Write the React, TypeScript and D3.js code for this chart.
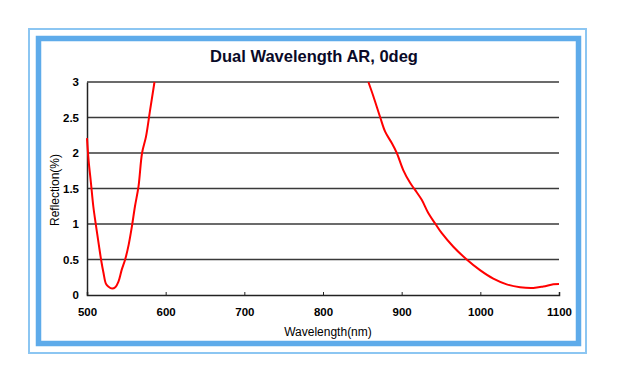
import { useEffect, useRef } from "react";
import * as d3 from "d3";

const title = "Dual Wavelength AR, 0deg";
const xTicks = [500, 600, 700, 800, 900, 1000, 1100];
const yTicks = [0, 0.5, 1, 1.5, 2, 2.5, 3];

// visible band 1 (green side)
const band1Nm = [500, 502, 505, 508, 511, 515, 518, 521, 524, 527, 532, 536, 540, 544, 548.5, 553, 557, 561, 565.5, 570, 575, 580, 585.8];
const band1R = [2.21, 1.9, 1.58, 1.25, 1.01, 0.71, 0.49, 0.31, 0.16, 0.12, 0.09, 0.11, 0.19, 0.35, 0.5, 0.71, 0.96, 1.25, 1.53, 2.0, 2.23, 2.59, 3.0];

// near IR band
const band2Nm = [857.7, 864, 872.5, 879, 887.4, 893.8, 902, 910.7, 917, 925.5, 934, 942.4, 951, 965.7, 982.7, 999.6, 1016.5, 1033.5, 1050.5, 1067.4, 1080, 1092.8, 1100];
const band2R = [3.0, 2.8, 2.51, 2.3, 2.14, 2.0, 1.76, 1.58, 1.48, 1.34, 1.15, 1.01, 0.87, 0.68, 0.5, 0.35, 0.23, 0.15, 0.11, 0.1, 0.12, 0.15, 0.155];

export default function App() {
  const ref = useRef<SVGSVGElement | null>(null);

  useEffect(() => {
    const width = 618;
    const height = 384;
    const margin = { top: 82, right: 59, bottom: 89, left: 87 };
    const font = "Liberation Sans, Arial, sans-serif";

    const svg = d3.select(ref.current);
    svg.selectAll("*").remove();

    svg.append("rect").attr("width", width).attr("height", height).attr("fill", "#fff");

    // frame
    svg.append("rect")
      .attr("x", 29).attr("y", 29).attr("width", 557).attr("height", 324)
      .attr("fill", "none").attr("stroke", "#8cc6f2").attr("stroke-width", 2);
    svg.append("rect")
      .attr("x", 38.5).attr("y", 38.5).attr("width", 540).attr("height", 305)
      .attr("fill", "none").attr("stroke", "#5eabea").attr("stroke-width", 5.5);

    const x = d3.scaleLinear().domain([500, 1100]).range([margin.left, width - margin.right]);
    const y = d3.scaleLinear().domain([0, 3]).range([height - margin.bottom, margin.top]);

    svg.append("text")
      .attr("x", 314).attr("y", 62)
      .attr("text-anchor", "middle")
      .attr("font-family", font)
      .attr("font-weight", "bold")
      .attr("font-size", 16.5)
      .attr("fill", "#0a0a28")
      .text(title);

    // horizontal grid
    svg.append("g")
      .selectAll("line")
      .data(yTicks.filter((t) => t > 0))
      .join("line")
      .attr("x1", x(500)).attr("x2", x(1100))
      .attr("y1", (d) => y(d)).attr("y2", (d) => y(d))
      .attr("stroke", "#3a3a3a").attr("stroke-width", 1.5);

    const xAxis = svg.append("g")
      .attr("transform", `translate(0,${y(0)})`)
      .call(d3.axisBottom(x).tickValues(xTicks).tickSize(-3).tickPadding(13).tickFormat(d3.format("d")));
    xAxis.select(".domain").attr("stroke", "#222").attr("stroke-width", 1.5);
    xAxis.selectAll(".tick line").attr("stroke", "#222");
    xAxis.selectAll("text")
      .attr("font-family", font)
      .attr("font-weight", "bold").attr("font-size", 11.5).attr("fill", "#000");

    const yAxis = svg.append("g")
      .attr("transform", `translate(${x(500)},0)`)
      .call(d3.axisLeft(y).tickValues(yTicks).tickSize(0).tickPadding(8).tickFormat((d) => String(d)));
    yAxis.select(".domain").attr("stroke", "#222").attr("stroke-width", 1.5);
    yAxis.selectAll("text")
      .attr("font-family", font)
      .attr("font-weight", "bold").attr("font-size", 11.5).attr("fill", "#000");

    svg.append("text")
      .attr("x", 328).attr("y", 336)
      .attr("text-anchor", "middle")
      .attr("font-family", font)
      .attr("font-size", 12).attr("fill", "#000")
      .text("Wavelength(nm)");

    svg.append("text")
      .attr("transform", `translate(59,190) rotate(-90)`)
      .attr("text-anchor", "middle")
      .attr("font-family", font)
      .attr("font-size", 12).attr("fill", "#000")
      .text("Reflection(%)");

    const line = d3.line<[number, number]>()
      .x((d) => x(d[0]))
      .y((d) => y(d[1]))
      .curve(d3.curveCatmullRom);
    [
      band1Nm.map((n, i) => [n, band1R[i]] as [number, number]),
      band2Nm.map((n, i) => [n, band2R[i]] as [number, number]),
    ].forEach((series) => {
      svg.append("path")
        .datum(series)
        .attr("fill", "none")
        .attr("stroke", "#ff0000")
        .attr("stroke-width", 2)
        .attr("d", line);
    });
  }, []);

  return (
    <svg ref={ref} width={618} height={384} style={{ position: "absolute", left: 0, top: 0 }} />
  );
}
